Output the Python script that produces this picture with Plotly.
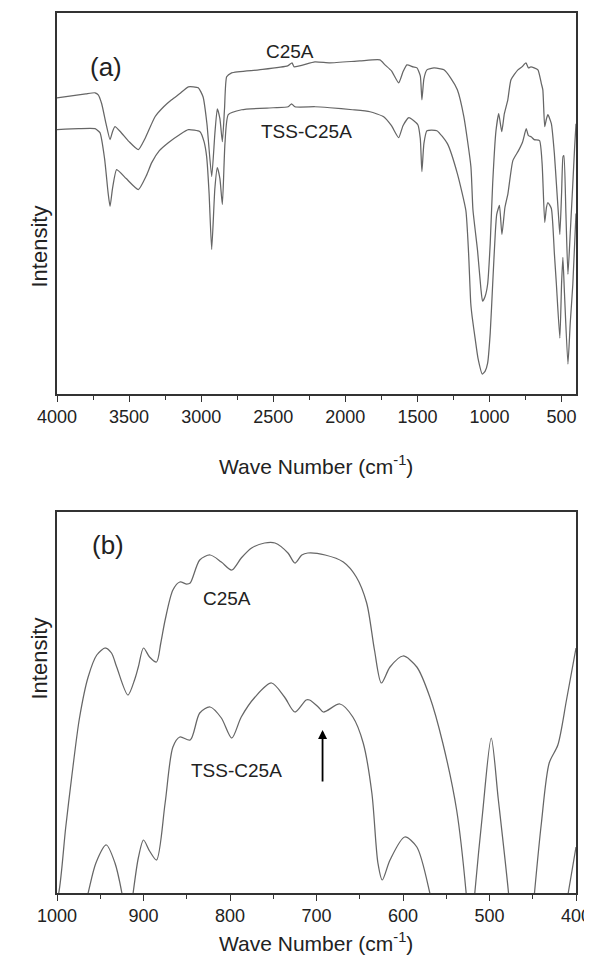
import plotly.graph_objects as go

# ---- panel (a): full FTIR spectra, 4000-400 cm-1 ----
a_c25a_wn = [4000, 3900, 3800, 3736, 3714, 3690, 3660, 3632, 3615, 3598, 3560, 3500, 3436, 3390,
             3320, 3260, 3205, 3150, 3089, 3020, 2987, 2960, 2927, 2905, 2888, 2870, 2853, 2838,
             2823, 2789, 2600, 2400, 2370, 2355, 2211, 2107, 1900, 1760, 1725, 1680, 1630, 1600,
             1573, 1530, 1503, 1480, 1469, 1455, 1434, 1385, 1340, 1316, 1270, 1223, 1178, 1129,
             1115, 1083, 1060, 1048, 1030, 1013, 995, 978, 955, 936, 915, 897, 873, 851, 803, 775,
             747, 730, 713, 690, 664, 640, 630, 617, 605, 595, 571, 550, 536, 520, 512, 500, 490,
             484, 470, 456, 440, 422, 410, 400]
a_c25a_int = [296, 298, 300, 301, 299, 290, 270, 254, 262, 267, 262, 252, 244, 255,
              277, 287, 294, 300, 307, 306, 297, 270, 217, 260, 285, 275, 252, 285,
              317, 321, 324, 328, 331, 327, 332, 331, 333, 334, 329, 323, 311, 322,
              329, 327, 326, 318, 294, 315, 324, 326, 325, 324, 316, 304, 277, 227,
              184, 143, 105, 92, 97, 109, 150, 210, 263, 280, 262, 280, 294, 314, 324, 327,
              331, 326, 327, 326, 324, 310, 304, 267, 275, 279, 270, 240, 210, 175, 159, 200, 237,
              238, 180, 119, 160, 210, 245, 270]

a_tss_wn = [4000, 3850, 3736, 3702, 3670, 3645, 3632, 3615, 3586, 3520, 3436, 3380, 3343, 3290,
            3228, 3150, 3089, 3008, 2980, 2962, 2945, 2927, 2905, 2888, 2870, 2853, 2835, 2812,
            2719, 2500, 2396, 2373, 2350, 2211, 2107, 1950, 1829, 1734, 1680, 1630, 1600, 1559,
            1497, 1480, 1469, 1455, 1434, 1365, 1292, 1223, 1164, 1145, 1130, 1120, 1100, 1080,
            1050, 1030, 1013, 995, 978, 960, 950, 931, 914, 893, 872, 838, 799, 770, 745, 730,
            711, 690, 653, 635, 617, 605, 595, 571, 550, 536, 512, 500, 491, 480, 456, 440, 422, 400]
a_tss_int = [264, 265, 265, 261, 235, 200, 187, 205, 224, 215, 204, 218, 231, 243,
             251, 259, 264, 262, 252, 237, 200, 144, 205, 226, 215, 189, 250, 279,
             284, 286, 287, 290, 287, 287, 286, 284, 282, 277, 268, 256, 268, 276,
             269, 255, 222, 250, 263, 263, 250, 220, 183, 140, 90, 76, 55, 35,
             19, 22, 30, 60, 109, 160, 179, 188, 159, 186, 200, 233, 243, 252, 265, 258,
             257, 254, 253, 230, 171, 186, 191, 185, 140, 109, 55, 110, 136, 100, 29, 70, 109, 180]

# ---- panel (b): 1000-400 cm-1 enlarged ----
b_c25a_wn = [1005, 998, 990, 983, 974, 964, 954, 944, 937, 931, 918, 910, 906, 900, 893, 885, 880,
             875, 866, 858, 850, 846, 835, 823, 810, 798, 787, 775, 760, 748, 733, 725, 717, 710,
             690, 669, 654, 642, 633, 625, 615, 600, 584, 569, 554, 538, 527, 522, 517, 508, 498,
             490, 478, 463, 448, 440, 431, 421, 411, 400]
b_c25a_int = [-20, 0, 65, 116, 175, 216, 238, 245, 240, 226, 198, 214, 226, 245, 236, 231, 250,
              273, 303, 311, 309, 310, 333, 338, 331, 323, 335, 345, 350, 350, 340, 330, 338, 340,
              338, 331, 316, 290, 243, 210, 226, 237, 226, 196, 150, 83, 0, -60, 0, 80, 155,
              95, 0, -150, 0, 70, 130, 148, 193, 245]

b_tss_wn = [975, 964, 955, 943, 933, 925, 918, 912, 906, 900, 893, 885, 875, 866, 858, 846, 835,
            823, 810, 798, 787, 771, 752, 737, 725, 712, 708, 698, 692, 673, 658, 646, 636, 629,
            624, 615, 598, 584, 569, 560, 500, 415, 409, 400]
b_tss_int = [-40, 0, 30, 48, 30, 0, -40, 0, 35, 53, 42, 33, 90, 146, 156, 153, 180,
             186, 175, 155, 176, 196, 210, 196, 181, 193, 193, 186, 181, 189, 176, 150, 100, 30,
             13, 33, 56, 46, 0, -40, None, -30, 0, 46]

LINE = dict(color="#666666", width=1.25)
AXIS_COLOR = "#333333"
FONT = "Arial, Liberation Sans, sans-serif"

# the page body adds an 8px margin, so the figure is drawn 8px smaller
# and every page position below is shifted back by that offset
PAGE_W, PAGE_H, OFF = 592, 969, 8
W, H = PAGE_W - OFF, PAGE_H - OFF


def px(x):
    return (x - OFF) / W


def py(y):
    return 1 - (y - OFF) / H


fig = go.Figure()
fig.add_trace(go.Scatter(x=a_c25a_wn, y=a_c25a_int, mode="lines", line=dict(LINE, shape="spline", smoothing=0.5),
                         xaxis="x", yaxis="y"))
fig.add_trace(go.Scatter(x=a_tss_wn, y=a_tss_int, mode="lines", line=dict(LINE, shape="spline", smoothing=0.5),
                         xaxis="x", yaxis="y"))
fig.add_trace(go.Scatter(x=b_c25a_wn, y=b_c25a_int, mode="lines", line=dict(LINE, shape="spline", smoothing=0.8),
                         xaxis="x2", yaxis="y2"))
fig.add_trace(go.Scatter(x=b_tss_wn, y=b_tss_int, mode="lines", line=dict(LINE, shape="spline", smoothing=0.8),
                         xaxis="x2", yaxis="y2", connectgaps=False))

xdom = [px(57), px(576)]


def xaxis(rng, dtick, minor, anchor):
    return dict(
        domain=xdom, range=rng, dtick=dtick, tick0=0, anchor=anchor, automargin=False,
        showline=True, linecolor=AXIS_COLOR, linewidth=1.5, mirror=True,
        ticks="outside", ticklen=6, tickwidth=1.3, tickcolor=AXIS_COLOR,
        minor=dict(ticks="outside", dtick=minor, ticklen=4, tickwidth=1.2, tickcolor=AXIS_COLOR),
        showgrid=False, zeroline=False,
        tickfont=dict(family=FONT, size=18, color="#222"),
    )


def yaxis(top, bottom, anchor, rng):
    return dict(
        domain=[py(bottom), py(top)], range=rng, anchor=anchor, automargin=False,
        showline=True, linecolor=AXIS_COLOR, linewidth=1.5, mirror=True,
        showticklabels=False, ticks="", showgrid=False, zeroline=False,
    )


fig.update_layout(
    width=W, height=H,
    margin=dict(l=0, r=0, t=0, b=0),
    showlegend=False,
    plot_bgcolor="white", paper_bgcolor="white",
    xaxis=xaxis([4000, 400], 500, 250, "y"),
    yaxis=yaxis(13, 394, "x", [-1, 381]),
    xaxis2=xaxis([1000, 400], 100, 50, "y2"),
    yaxis2=yaxis(512, 893, "x2", [0, 381]),
)

txt = dict(family=FONT, color="#222")
ann = [
    dict(text="(a)", x=px(88), y=py(50), xref="paper", yref="paper", font=dict(txt, size=26)),
    dict(text="(b)", x=px(90), y=py(545), xref="paper", yref="paper", font=dict(txt, size=26)),
    dict(text="C25A", x=2384, y=342, xref="x", yref="y", font=dict(txt, size=19)),
    dict(text="TSS-C25A", x=2266, y=262, xref="x", yref="y", font=dict(txt, size=19)),
    dict(text="C25A", x=804, y=295, xref="x2", yref="y2", font=dict(txt, size=19)),
    dict(text="TSS-C25A", x=792, y=123, xref="x2", yref="y2", font=dict(txt, size=19)),
    dict(text="Intensity", x=px(24), y=py(204), xref="paper", yref="paper", textangle=-90,
         font=dict(txt, size=22)),
    dict(text="Intensity", x=px(24), y=py(702), xref="paper", yref="paper", textangle=-90,
         font=dict(txt, size=22)),
    dict(text="Wave Number (cm<sup>-1</sup>)", x=px(316), y=py(465), xref="paper", yref="paper",
         font=dict(txt, size=21)),
    dict(text="Wave Number (cm<sup>-1</sup>)", x=px(316), y=py(957), xref="paper", yref="paper",
         font=dict(txt, size=21)),
]
for a in ann:
    fig.add_annotation(showarrow=False, **a)

fig.add_annotation(x=693, y=163, ax=693, ay=110, xref="x2", yref="y2", axref="x2", ayref="y2",
                   text="", showarrow=True, arrowhead=2, arrowsize=1, arrowwidth=1.8, arrowcolor="black")

fig.write_html("out.html")
